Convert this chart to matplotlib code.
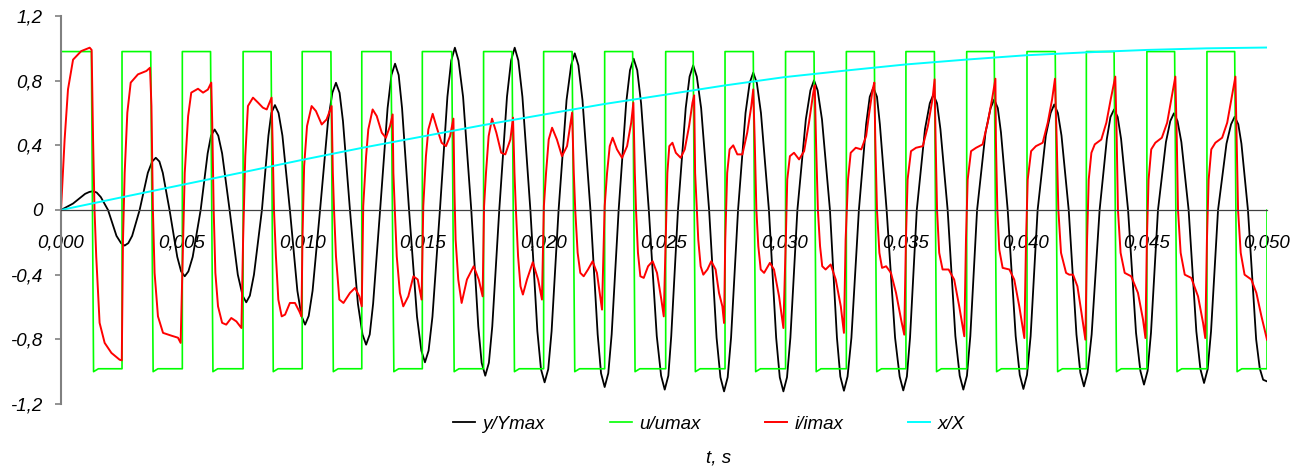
import matplotlib
matplotlib.use('Agg')
import matplotlib.pyplot as plt
import numpy as np

plt.rcParams['font.family'] = ['Liberation Sans', 'DejaVu Sans']
plt.rcParams['font.style'] = 'italic'
FONT_SIZE = 13.5

# ---- data (time in ms, values normalised) ----
# u/umax : square wave, rising and falling edge times
u_rise = [0.0, 2.53, 5.03, 7.55, 10.0, 12.47, 14.98, 17.52, 20.01, 22.54,
          25.07, 27.53, 30.04, 32.56, 35.03, 37.55, 40.05, 42.51, 45.02, 47.51]
u_fall = [1.26, 3.72, 6.2, 8.71, 11.19, 13.68, 16.2, 18.7, 21.19, 23.7,
          26.21, 28.7, 31.22, 33.72, 36.21, 38.69, 41.22, 43.66, 46.17, 48.66]
u_fall_end = [1.35, 3.82, 6.3, 8.8, 11.29, 13.8, 16.3, 18.8, 21.3, 23.8,
              26.3, 28.8, 31.31, 33.82, 36.3, 38.79, 41.32, 43.76, 46.27, 48.76]
u_end = 50.0
u_high = 0.98
u_low = -0.982
u_low_dip = -1.0

# y/Ymax
y_pts = [
    (0, 0), (0.5, 0.04), (1.0, 0.1), (1.18, 0.112), (1.33, 0.116), (1.48, 0.108), (1.65, 0.08),
    (1.95, 0), (2.3, -0.16), (2.49, -0.205), (2.64, -0.22), (2.79, -0.205), (2.95, -0.16), (3.26, 0),
    (3.6, 0.23), (3.78, 0.3), (3.93, 0.323), (4.08, 0.3), (4.22, 0.23), (4.5, 0),
    (4.82, -0.29), (4.98, -0.38), (5.13, -0.41), (5.28, -0.38), (5.46, -0.29), (5.79, 0),
    (6.08, 0.35), (6.22, 0.46), (6.37, 0.498), (6.52, 0.46), (6.68, 0.35), (6.99, 0),
    (7.33, -0.40), (7.53, -0.53), (7.68, -0.571), (7.83, -0.53), (8.0, -0.40), (8.33, 0),
    (8.6, 0.46), (8.72, 0.6), (8.87, 0.649), (9.02, 0.6), (9.18, 0.46), (9.49, 0),
    (9.8, -0.50), (9.97, -0.655), (10.12, -0.709), (10.27, -0.655), (10.43, -0.50), (10.74, 0),
    (11.07, 0.55), (11.25, 0.725), (11.4, 0.787), (11.55, 0.725), (11.69, 0.55), (11.98, 0),
    (12.31, -0.58), (12.5, -0.77), (12.65, -0.833), (12.8, -0.77), (12.94, -0.58), (13.23, 0),
    (13.54, 0.63), (13.7, 0.835), (13.85, 0.905), (14.0, 0.835), (14.14, 0.63), (14.43, 0),
    (14.76, -0.66), (14.94, -0.87), (15.09, -0.942), (15.24, -0.87), (15.4, -0.66), (15.71, 0),
    (16.02, 0.70), (16.18, 0.925), (16.33, 1.004), (16.48, 0.925), (16.67, 0.70), (17.01, 0),
    (17.3, -0.72), (17.44, -0.945), (17.59, -1.025), (17.74, -0.945), (17.88, -0.72), (18.17, 0),
    (18.49, 0.70), (18.66, 0.925), (18.81, 1.004), (18.96, 0.925), (19.13, 0.70), (19.46, 0),
    (19.75, -0.75), (19.9, -0.985), (20.05, -1.066), (20.2, -0.985), (20.34, -0.75), (20.63, 0),
    (20.96, 0.68), (21.15, 0.895), (21.3, 0.969), (21.45, 0.895), (21.62, 0.68), (21.95, 0),
    (22.25, -0.77), (22.39, -1.01), (22.54, -1.095), (22.69, -1.01), (22.83, -0.77), (23.12, 0),
    (23.43, 0.66), (23.59, 0.865), (23.74, 0.936), (23.89, 0.865), (24.05, 0.66), (24.37, 0),
    (24.7, -0.78), (24.88, -1.025), (25.03, -1.111), (25.18, -1.025), (25.3, -0.78), (25.58, 0),
    (25.9, 0.63), (26.06, 0.825), (26.21, 0.895), (26.36, 0.825), (26.54, 0.63), (26.87, 0),
    (27.18, -0.79), (27.34, -1.035), (27.49, -1.122), (27.64, -1.035), (27.78, -0.79), (28.07, 0),
    (28.38, 0.60), (28.55, 0.785), (28.7, 0.85), (28.85, 0.785), (29.02, 0.60), (29.35, 0),
    (29.65, -0.79), (29.8, -1.035), (29.95, -1.122), (30.1, -1.035), (30.24, -0.79), (30.53, 0),
    (30.88, 0.56), (31.07, 0.74), (31.22, 0.802), (31.37, 0.74), (31.55, 0.56), (31.88, 0),
    (32.17, -0.79), (32.31, -1.03), (32.46, -1.118), (32.61, -1.03), (32.77, -0.79), (33.08, 0),
    (33.38, 0.53), (33.53, 0.7), (33.68, 0.757), (33.83, 0.7), (33.95, 0.53), (34.23, 0),
    (34.58, -0.79), (34.77, -1.03), (34.92, -1.116), (35.07, -1.03), (35.2, -0.79), (35.48, 0),
    (35.82, 0.50), (36.02, 0.66), (36.17, 0.715), (36.32, 0.66), (36.46, 0.50), (36.76, 0),
    (37.08, -0.78), (37.26, -1.025), (37.41, -1.111), (37.56, -1.025), (37.7, -0.78), (37.98, 0),
    (38.33, 0.48), (38.54, 0.63), (38.69, 0.684), (38.84, 0.63), (38.97, 0.48), (39.25, 0),
    (39.58, -0.78), (39.75, -1.02), (39.9, -1.107), (40.05, -1.02), (40.2, -0.78), (40.49, 0),
    (40.83, 0.46), (41.03, 0.6), (41.18, 0.653), (41.33, 0.6), (41.48, 0.46), (41.78, 0),
    (42.1, -0.77), (42.26, -1.005), (42.41, -1.091), (42.56, -1.005), (42.73, -0.77), (43.06, 0),
    (43.36, 0.44), (43.51, 0.575), (43.66, 0.622), (43.81, 0.575), (43.95, 0.44), (44.24, 0),
    (44.57, -0.76), (44.75, -0.995), (44.9, -1.08), (45.05, -0.995), (45.19, -0.76), (45.48, 0),
    (45.81, 0.42), (45.99, 0.55), (46.14, 0.598), (46.29, 0.55), (46.45, 0.42), (46.75, 0),
    (47.07, -0.75), (47.24, -0.985), (47.39, -1.07), (47.54, -0.985), (47.68, -0.75), (47.97, 0),
    (48.32, 0.41), (48.51, 0.53), (48.66, 0.577), (48.81, 0.53), (48.94, 0.41), (49.21, 0),
    (49.55, -0.80), (49.7, -0.98), (49.84, -1.05), (50.0, -1.06),
]

# i/imax
i_pts = [
    (0, 0), (0.15, 0.436), (0.29, 0.746), (0.5, 0.93), (0.84, 0.983), (1.19, 1.004), (1.27, 0.99),
    (1.33, 0.436), (1.39, 0), (1.46, -0.286), (1.6, -0.698), (1.81, -0.822), (2.09, -0.884),
    (2.43, -0.926), (2.52, -0.93),
    (2.57, -0.183), (2.64, 0.23), (2.75, 0.602), (2.89, 0.788), (3.19, 0.839), (3.54, 0.86),
    (3.69, 0.88), (3.75, 0.643), (3.81, 0), (3.88, -0.389), (4.02, -0.658), (4.23, -0.76),
    (4.57, -0.777), (4.85, -0.79), (4.96, -0.822),
    (5.03, -0.389), (5.13, 0.23), (5.27, 0.58), (5.4, 0.726), (5.68, 0.75), (5.89, 0.726),
    (6.09, 0.745), (6.23, 0.788), (6.27, 0.54), (6.33, 0), (6.4, -0.389), (6.51, -0.596),
    (6.68, -0.698), (6.85, -0.709), (7.06, -0.668), (7.27, -0.689), (7.48, -0.73),
    (7.55, -0.183), (7.64, 0.333), (7.75, 0.643), (7.96, 0.695), (8.17, 0.664), (8.37, 0.633),
    (8.53, 0.622), (8.73, 0.695), (8.77, 0.436), (8.83, 0), (8.91, -0.286), (9.01, -0.554),
    (9.15, -0.658), (9.29, -0.647), (9.49, -0.575), (9.7, -0.575), (9.88, -0.627), (9.97, -0.658),
    (10.01, -0.183), (10.08, 0.271), (10.2, 0.519), (10.39, 0.643), (10.57, 0.612),
    (10.81, 0.529), (11.01, 0.56), (11.22, 0.643), (11.27, 0.23), (11.32, 0), (11.4, -0.286),
    (11.54, -0.554), (11.71, -0.575), (11.98, -0.513), (12.19, -0.482), (12.37, -0.534),
    (12.47, -0.596),
    (12.53, 0.024), (12.65, 0.333), (12.74, 0.498), (12.92, 0.622), (13.09, 0.581), (13.3, 0.478),
    (13.47, 0.447), (13.64, 0.519), (13.75, 0.591), (13.78, 0.23), (13.84, 0), (13.92, -0.286),
    (14.05, -0.513), (14.19, -0.596), (14.4, -0.534), (14.61, -0.41), (14.79, -0.43),
    (14.95, -0.554),
    (15.02, 0.024), (15.13, 0.333), (15.23, 0.498), (15.41, 0.595), (15.58, 0.509),
    (15.78, 0.416), (15.96, 0.395), (16.13, 0.457), (16.27, 0.565), (16.31, 0.127),
    (16.36, -0.183), (16.47, -0.43), (16.61, -0.575), (16.83, -0.43), (17.11, -0.348),
    (17.32, -0.43), (17.48, -0.534),
    (17.54, 0.024), (17.62, 0.23), (17.73, 0.457), (17.87, 0.565), (18.05, 0.478), (18.25, 0.354),
    (18.42, 0.344), (18.63, 0.436), (18.74, 0.571), (18.8, 0.23), (18.86, 0), (18.95, -0.286),
    (19.05, -0.472), (19.15, -0.523), (19.32, -0.43), (19.56, -0.323), (19.78, -0.43),
    (19.94, -0.554),
    (20.02, 0.024), (20.11, 0.23), (20.22, 0.436), (20.36, 0.509), (20.56, 0.436), (20.77, 0.333),
    (20.98, 0.395), (21.19, 0.602), (21.26, 0.23), (21.32, 0), (21.42, -0.265), (21.53, -0.389),
    (21.67, -0.41), (21.85, -0.368), (22.04, -0.317), (22.22, -0.389), (22.43, -0.616),
    (22.54, 0.024), (22.64, 0.23), (22.75, 0.395), (22.87, 0.447), (23.05, 0.375), (23.26, 0.323),
    (23.47, 0.395), (23.64, 0.54), (23.73, 0.664), (23.79, 0.23), (23.84, 0), (23.92, -0.265),
    (24.02, -0.41), (24.16, -0.42), (24.34, -0.348), (24.53, -0.317), (24.71, -0.389),
    (24.89, -0.554), (24.99, -0.658),
    (25.07, -0.183), (25.14, 0.23), (25.22, 0.395), (25.35, 0.416), (25.49, 0.354),
    (25.69, 0.323), (25.86, 0.375), (26.04, 0.519), (26.18, 0.664), (26.25, 0.709), (26.29, 0.23),
    (26.36, 0), (26.42, -0.183), (26.52, -0.348), (26.63, -0.4), (26.8, -0.368), (26.96, -0.317),
    (27.14, -0.368), (27.28, -0.513), (27.42, -0.596), (27.49, -0.699),
    (27.54, -0.183), (27.62, 0.23), (27.72, 0.375), (27.87, 0.4), (28.04, 0.344), (28.25, 0.344),
    (28.45, 0.478), (28.62, 0.643), (28.7, 0.746), (28.76, 0.436), (28.83, 0), (28.91, -0.224),
    (29.01, -0.368), (29.15, -0.389), (29.39, -0.327), (29.56, -0.368), (29.77, -0.534),
    (29.95, -0.73),
    (30.05, -0.183), (30.11, 0.189), (30.22, 0.333), (30.39, 0.354), (30.6, 0.313), (30.81, 0.364),
    (31.01, 0.54), (31.19, 0.726), (31.25, 0.771), (31.3, 0.436), (31.38, 0), (31.47, -0.224),
    (31.56, -0.348), (31.7, -0.368), (31.91, -0.337), (32.12, -0.43), (32.33, -0.596),
    (32.46, -0.76),
    (32.53, -0.183), (32.63, 0.189), (32.74, 0.354), (32.95, 0.385), (33.18, 0.375),
    (33.38, 0.457), (33.51, 0.602), (33.65, 0.746), (33.72, 0.788), (33.76, 0.436), (33.83, 0),
    (33.93, -0.265), (34.04, -0.358), (34.21, -0.348), (34.41, -0.389), (34.62, -0.513),
    (34.83, -0.678), (34.96, -0.771),
    (35.03, -0.183), (35.1, 0.189), (35.24, 0.364), (35.45, 0.385), (35.73, 0.395), (35.94, 0.519),
    (36.13, 0.684), (36.22, 0.808), (36.26, 0.436), (36.32, 0), (36.41, -0.265), (36.55, -0.368),
    (36.8, -0.368), (37.03, -0.43), (37.24, -0.596), (37.45, -0.781),
    (37.52, -0.183), (37.59, 0.189), (37.73, 0.364), (37.94, 0.385), (38.21, 0.406), (38.42, 0.54),
    (38.6, 0.684), (38.74, 0.812), (38.76, 0.436), (38.82, 0), (38.9, -0.245), (39.04, -0.358),
    (39.32, -0.368), (39.52, -0.43), (39.73, -0.596), (39.94, -0.792),
    (40.01, -0.183), (40.08, 0.189), (40.22, 0.364), (40.42, 0.395), (40.7, 0.416), (40.91, 0.54),
    (41.09, 0.684), (41.21, 0.812), (41.28, 0.436), (41.35, 0), (41.46, -0.265), (41.67, -0.389),
    (41.8, -0.4), (41.96, -0.4), (42.14, -0.472), (42.31, -0.637), (42.47, -0.802),
    (42.54, -0.183), (42.61, 0.189), (42.72, 0.354), (42.86, 0.406), (43.13, 0.436), (43.34, 0.54),
    (43.52, 0.684), (43.71, 0.825), (43.77, 0.436), (43.82, 0), (43.93, -0.265), (44.1, -0.389),
    (44.37, -0.41), (44.65, -0.513), (44.86, -0.678), (44.96, -0.792),
    (45.02, -0.183), (45.09, 0.189), (45.2, 0.375), (45.37, 0.416), (45.64, 0.447), (45.86, 0.54),
    (46.03, 0.684), (46.2, 0.825), (46.26, 0.436), (46.31, 0), (46.42, -0.265), (46.59, -0.4),
    (46.86, -0.42), (47.14, -0.534), (47.35, -0.699), (47.44, -0.792),
    (47.51, -0.183), (47.58, 0.189), (47.69, 0.375), (47.86, 0.416), (48.14, 0.447), (48.35, 0.54),
    (48.52, 0.684), (48.69, 0.825), (48.74, 0.436), (48.8, 0), (48.91, -0.265), (49.07, -0.4),
    (49.35, -0.43), (49.56, -0.513), (49.77, -0.658), (50.0, -0.802),
]

# x/X
x_t = [0, 2.5, 5, 7.5, 10, 12.5, 15, 17.5, 20, 22.5, 25, 27.5, 30, 32.5, 35, 37.5,
       40, 42.5, 45, 47.5, 50]
x_v = [0, 0.078, 0.155, 0.232, 0.31, 0.385, 0.455, 0.525, 0.59, 0.655, 0.712, 0.77,
       0.822, 0.862, 0.9, 0.93, 0.957, 0.975, 0.99, 1.0, 1.005]

labels = ['y/Ymax', 'u/umax', 'i/imax', 'x/X']
colors = ['#000000', '#00ff00', '#ff0000', '#00ffff']

x_ticks = [0, 0.005, 0.010, 0.015, 0.020, 0.025, 0.030, 0.035, 0.040, 0.045, 0.050]
y_ticks = [-1.2, -0.8, -0.4, 0, 0.4, 0.8, 1.2]

# ---- build the square wave polyline from edge times ----
u_t, u_v = [0.0], [0.0]
for k in range(len(u_rise)):
    if k > 0:
        u_t.append(u_rise[k]); u_v.append(u_low)
    u_t += [u_rise[k], u_fall[k], u_fall_end[k], u_fall_end[k] + 0.2]
    u_v += [u_high, u_high, u_low_dip, u_low]
u_t += [u_end, u_end]
u_v += [u_low, 0.0]

y_t, y_v = np.array(y_pts).T
i_t, i_v = np.array(i_pts).T

# ---- figure ----
fig = plt.figure(figsize=(13.03, 4.70), dpi=100)
ax = fig.add_axes([61 / 1303, 66 / 470, 1206 / 1303, 388 / 470])

ms = 1e-3
ax.plot(y_t * ms, y_v, color=colors[0], lw=1.3, label=labels[0])
ax.plot(np.array(u_t) * ms, u_v, color=colors[1], lw=1.2, label=labels[1])
ax.plot(i_t * ms, i_v, color=colors[2], lw=1.4, label=labels[2])
ax.plot(np.array(x_t) * ms, x_v, color=colors[3], lw=1.4, label=labels[3])

ax.set_xlim(0, 0.05)
ax.set_ylim(-1.2, 1.2)

ax.spines['top'].set_visible(False)
ax.spines['right'].set_visible(False)
ax.spines['left'].set_color('#808080')
ax.spines['left'].set_linewidth(1.5)
ax.spines['bottom'].set_position(('data', 0))
ax.spines['bottom'].set_color('#404040')
ax.spines['bottom'].set_linewidth(0.9)

ax.set_xticks(x_ticks)
ax.set_xticklabels([f'{v:.3f}'.replace('.', ',') for v in x_ticks])
ax.set_yticks(y_ticks)
ax.set_yticklabels(['0' if v == 0 else f'{v:.1f}'.replace('.', ',') for v in y_ticks])
ax.tick_params(axis='x', length=0, pad=18, labelsize=FONT_SIZE)
ax.tick_params(axis='y', direction='out', length=4.5, width=1.2, color='#808080',
               pad=9, labelsize=FONT_SIZE)

fig.legend(loc='center left', bbox_to_anchor=(453 / 1303, 1 - 424 / 470), ncol=4,
           frameon=False, fontsize=FONT_SIZE, handlelength=1.17, handletextpad=0.4,
           columnspacing=3.45, borderpad=0, borderaxespad=0)
fig.text(719 / 1303, 1 - 458 / 470, 't, s', ha='center', va='center', fontsize=FONT_SIZE)

plt.savefig('out.png', dpi=100)
